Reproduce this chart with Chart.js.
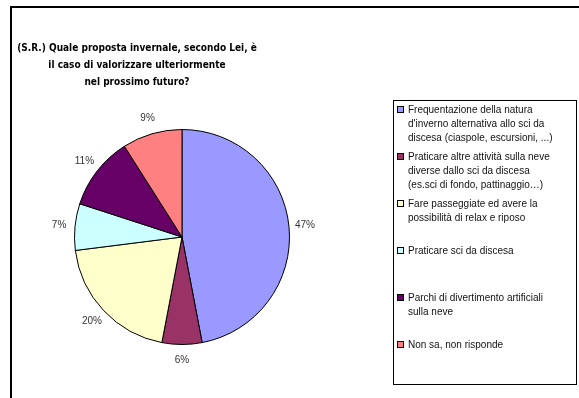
<!DOCTYPE html>
<html>
<head>
<meta charset="utf-8">
<script src="https://cdn.jsdelivr.net/npm/chart.js@4.4.0/dist/chart.umd.min.js"></script>
<style>
  body { margin: 0; background: #fff; }
  canvas { display: block; }
</style>
</head>
<body>
<canvas id="chart" width="579" height="398"></canvas>
<script>
// title, one entry per printed line
var titleLines = [
  '(S.R.) Quale proposta invernale, secondo Lei, è',
  'il caso di valorizzare ulteriormente',
  'nel prossimo futuro?'
];
// categories as they wrap in the legend box
var categories = [
  ['Frequentazione della natura', "d'inverno alternativa allo sci da", 'discesa (ciaspole, escursioni, ...)'],
  ['Praticare altre attività sulla neve', 'diverse dallo sci da discesa', '(es.sci di fondo, pattinaggio…)'],
  ['Fare passeggiate ed avere la', 'possibilità di relax e riposo'],
  ['Praticare sci da discesa'],
  ['Parchi di divertimento artificiali', 'sulla neve'],
  ['Non sa, non risponde']
];
var values = [47, 6, 20, 7, 11, 9];

var sliceColors = ['#9999ff', '#993366', '#ffffcc', '#ccffff', '#660066', '#ff8080'];

// outer frame, title and the boxed legend
var decorPlugin = {
  id: 'decor',
  afterDraw: function (chart) {
    var ctx = chart.ctx;
    ctx.save();
    // frame around the whole picture (cut by the right/bottom edge)
    ctx.strokeStyle = '#000';
    ctx.lineWidth = 2;
    ctx.strokeRect(11, 7, 620, 420);

    // title
    ctx.fillStyle = '#000';
    ctx.font = 'bold 10px "DejaVu Sans Condensed", "DejaVu Sans", sans-serif';
    ctx.textAlign = 'center';
    ctx.textBaseline = 'middle';
    titleLines.forEach(function (t, i) {
      ctx.fillText(t, 137, 48 + i * 17);
    });

    // legend box
    ctx.lineWidth = 1;
    ctx.strokeRect(393.5, 100.5, 183, 284);
    ctx.font = '10px "Liberation Sans", Arial, sans-serif';
    ctx.textAlign = 'left';
    categories.forEach(function (lines, i) {
      var y0 = 110 + i * 47;
      ctx.fillStyle = sliceColors[i];
      ctx.fillRect(397, y0 - 3, 6, 6);
      ctx.strokeStyle = '#000';
      ctx.strokeRect(397.5, y0 - 3.5, 6, 6);
      ctx.fillStyle = '#111';
      lines.forEach(function (l, j) {
        ctx.fillText(l, 408, y0 + j * 14);
      });
    });
    ctx.restore();
  }
};

// percentage labels outside the slices
var pctPlugin = {
  id: 'pct',
  afterDatasetsDraw: function (chart) {
    var ctx = chart.ctx;
    var meta = chart.getDatasetMeta(0);
    var total = values.reduce(function (a, b) { return a + b; }, 0);
    ctx.save();
    ctx.font = '10px "Liberation Sans", Arial, sans-serif';
    ctx.fillStyle = '#333';
    ctx.textAlign = 'center';
    ctx.textBaseline = 'middle';
    meta.data.forEach(function (arc, i) {
      var p = arc.getProps(['x', 'y', 'startAngle', 'endAngle', 'outerRadius'], true);
      var mid = (p.startAngle + p.endAngle) / 2;
      var r = p.outerRadius + 16;
      var pct = Math.round(values[i] / total * 100) + '%';
      ctx.fillText(pct, p.x + Math.cos(mid) * r, p.y + Math.sin(mid) * r);
    });
    ctx.restore();
  }
};

new Chart(document.getElementById('chart'), {
  type: 'pie',
  data: {
    labels: categories,
    datasets: [{
      data: values,
      backgroundColor: sliceColors,
      borderColor: '#000',
      borderWidth: 1
    }]
  },
  options: {
    responsive: false,
    animation: false,
    events: [],
    layout: { padding: { left: 74, right: 289, top: 129, bottom: 53 } },
    plugins: {
      legend: { display: false },
      title: { display: false },
      tooltip: { enabled: false }
    }
  },
  plugins: [decorPlugin, pctPlugin]
});
</script>
</body>
</html>
